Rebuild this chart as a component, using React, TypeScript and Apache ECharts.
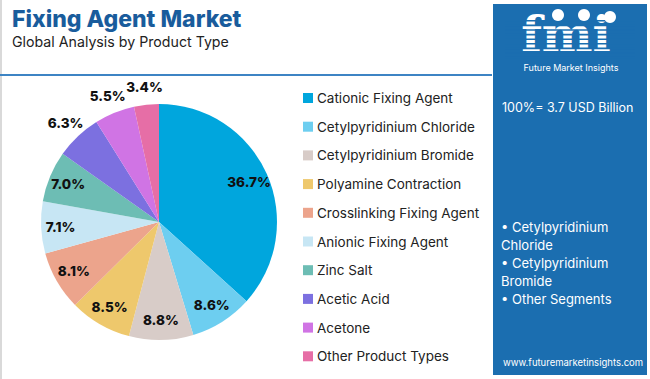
import React, { useEffect, useRef } from "react";
import * as echarts from "echarts";

const categories = [
  "Cationic Fixing Agent",
  "Cetylpyridinium Chloride",
  "Cetylpyridinium Bromide",
  "Polyamine Contraction",
  "Crosslinking Fixing Agent",
  "Anionic Fixing Agent",
  "Zinc Salt",
  "Acetic Acid",
  "Acetone",
  "Other Product Types",
];
const shares = [36.7, 8.6, 8.8, 8.5, 8.1, 7.1, 7.0, 6.3, 5.5, 3.4];
const colors = [
  "#00A6DD",
  "#6DCEF0",
  "#D8CCC8",
  "#EEC86C",
  "#ECA48C",
  "#C7E6F4",
  "#6DBDB4",
  "#7C70E0",
  "#D074E4",
  "#E66EA6",
];
const outsideLabelStart = 7;
const panelBullets = ["• Cetylpyridinium", "Chloride", "• Cetylpyridinium", "Bromide", "• Other Segments"];

const FONT = "Inter, 'Open Sans', sans-serif";
const PANEL = "#1B6EB0";

export default function App() {
  const ref = useRef<HTMLDivElement>(null);
  useEffect(() => {
    document.body.style.margin = "0";
    const chart = echarts.init(ref.current!, null, { renderer: "svg" });
    const center = [159, 222];
    const R = 118;
    const data = categories.map((name, i) => ({
      name,
      value: shares[i],
      itemStyle: { color: colors[i] },
    }));
    const fmt = (p: any) => p.value.toFixed(1) + "%";
    const labelStyle = {
      fontFamily: FONT,
      fontWeight: 800,
      fontSize: 13.5,
      color: "#111",
    };
    const graphics: any[] = [
      { type: "rect", shape: { x: 0, y: 0, width: 2, height: 379 }, style: { fill: "#d9d9d9" }, silent: true },
      { type: "rect", shape: { x: 0, y: 74, width: 492, height: 2 }, style: { fill: "#3d84c4" }, silent: true },
      {
        type: "text",
        left: 12,
        top: 7,
        style: { text: "Fixing Agent Market", font: `800 23px ${FONT}`, fill: "#195C9C" },
      },
      {
        type: "text",
        left: 12,
        top: 34,
        style: { text: "Global Analysis by Product Type", font: `400 14.2px ${FONT}`, fill: "#222" },
      },
      { type: "rect", shape: { x: 493, y: 4, width: 154, height: 371 }, style: { fill: PANEL } },
      // logo
      {
        type: "text",
        x: 566,
        y: 34,
        style: {
          text: "fmi",
          font: `900 48px 'DejaVu Serif', serif`,
          fill: "#ffffff",
          align: "center",
          verticalAlign: "middle",
          lineHeight: 40,
        },
      },
    ];
    for (let k = 0; k < 9; k++) {
      graphics.push({
        type: "rect",
        shape: { x: 505, y: 20 + k * 4.6, width: 130, height: 1.6 },
        style: { fill: PANEL },
        silent: true,
      });
    }
    [
      [558, 15],
      [584, 15],
      [610, 17],
    ].forEach(([cx, cy]) =>
      graphics.push({
        type: "circle",
        shape: { cx, cy, r: 6 },
        style: { fill: "#ffffff" },
      })
    );
    graphics.push(
      {
        type: "text",
        x: 571,
        y: 63,
        style: { text: "Future Market Insights", font: `400 9px ${FONT}`, fill: "#ffffff", align: "center" },
      },
      {
        type: "text",
        x: 502,
        y: 101,
        style: { text: "100%= 3.7 USD Billion", font: `400 12.5px ${FONT}`, fill: "#ffffff" },
      },
      {
        type: "text",
        x: 503,
        y: 357,
        style: { text: "www.futuremarketinsights.com", font: `400 9.5px ${FONT}`, fill: "#ffffff" },
      }
    );
    panelBullets.forEach((t, i) =>
      graphics.push({
        type: "text",
        x: 501,
        y: 220 + i * 18,
        style: { text: t, font: `400 13px ${FONT}`, fill: "#ffffff" },
      })
    );

    chart.setOption({
      animation: false,
      legend: {
        orient: "vertical",
        left: 303,
        top: 91,
        padding: 0,
        itemWidth: 10,
        itemHeight: 10,
        itemGap: 14.7,
        icon: "rect",
        textStyle: { fontFamily: FONT, fontSize: 13.5, color: "#222", padding: [0, 0, 0, -1] },
        data: categories.map((name, i) => ({ name, itemStyle: { color: colors[i] } })),
        selectedMode: false,
      },
      graphic: graphics,
      series: [
        {
          type: "pie",
          center,
          radius: [0, R],
          startAngle: 90,
          clockwise: true,
          data,
          label: { show: false },
          labelLine: { show: false },
          itemStyle: { borderColor: "#ffffff", borderWidth: 0 },
          emphasis: { disabled: true },
        },
        {
          type: "pie",
          center,
          radius: [73, R],
          startAngle: 90,
          silent: true,
          data: data.map((d, i) => ({
            ...d,
            itemStyle: { color: "rgba(0,0,0,0)" },
            label: { show: i < outsideLabelStart },
          })),
          label: { position: "inside", formatter: fmt, ...labelStyle },
          labelLine: { show: false },
          labelLayout: { hideOverlap: false },
          emphasis: { disabled: true },
        },
        {
          type: "pie",
          center,
          radius: [R, 148],
          startAngle: 90,
          silent: true,
          avoidLabelOverlap: false,
          data: data.map((d, i) => ({
            ...d,
            itemStyle: { color: "rgba(0,0,0,0)" },
            label: { show: i >= outsideLabelStart },
          })),
          label: { position: "inside", formatter: fmt, ...labelStyle },
          labelLine: { show: false },
          labelLayout: { hideOverlap: false },
          emphasis: { disabled: true },
        },
      ],
    });
    return () => chart.dispose();
  }, []);
  return <div ref={ref} style={{ width: 650, height: 379 }} />;
}
